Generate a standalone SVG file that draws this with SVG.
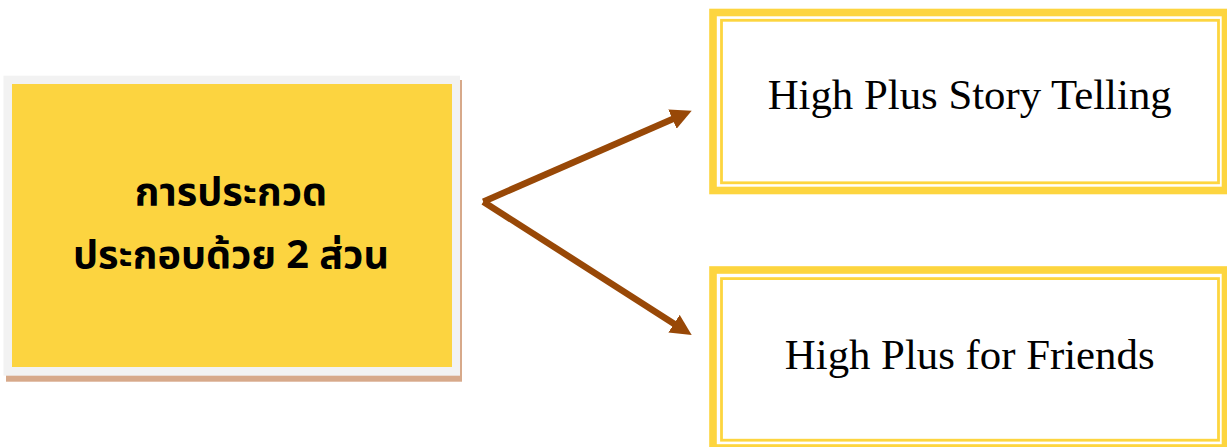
<svg xmlns="http://www.w3.org/2000/svg" width="1227" height="447" viewBox="0 0 1227 447">
  <style>
    .thai { font-family: "Noto Sans Thai", "Tahoma", "DejaVu Sans", "Noto Sans", sans-serif; font-weight: bold; font-size: 39.6px; fill: #000; text-anchor: middle; }
    .eng { font-family: "Liberation Serif", "Times New Roman", serif; font-size: 42.8px; fill: #000; text-anchor: middle; }
    .outer { fill: none; stroke: #FDD53F; stroke-width: 7.6; }
    .inner { fill: none; stroke: #FDD53F; stroke-width: 2.8; }
    .conn { stroke: #984807; stroke-width: 6.5; fill: none; }
  </style>
  <defs>
    <marker id="arrow" markerUnits="userSpaceOnUse" markerWidth="21" markerHeight="21" refX="6" refY="10.5" orient="auto">
      <path d="M0,0 L21,10.5 L0,21 z" fill="#984807"/>
    </marker>
  </defs>
  <rect width="1227" height="447" fill="#ffffff"/>

  <g id="node-main">
    <rect x="6" y="80" width="456" height="301.7" fill="#D7A98A"/>
    <rect x="3.5" y="75.7" width="456.5" height="300" fill="#F2F2F2"/>
    <rect x="12" y="84" width="440" height="283" fill="#FCD440"/>
    <text class="thai" x="231" y="205">การประกวด</text>
    <text class="thai" x="231" y="268">ประกอบด้วย 2 ส่วน</text>
  </g>

  <g id="node-story">
    <rect class="outer" x="713" y="12.5" width="512.5" height="178"/>
    <rect class="inner" x="721.5" y="20.3" width="497" height="162.5"/>
    <text class="eng" x="969.7" y="109.3">High Plus Story Telling</text>
  </g>

  <g id="node-friends">
    <rect class="outer" x="713" y="270" width="512.5" height="178"/>
    <rect class="inner" x="721.5" y="278.6" width="497" height="161.6"/>
    <text class="eng" x="969.7" y="369.3">High Plus for Friends</text>
  </g>

  <g id="connectors">
    <path class="conn" d="M483.3,201.7 L677.95,116.7" marker-end="url(#arrow)"/>
    <path class="conn" d="M483.3,201.7 L679.06,326.92" marker-end="url(#arrow)"/>
  </g>
</svg>
